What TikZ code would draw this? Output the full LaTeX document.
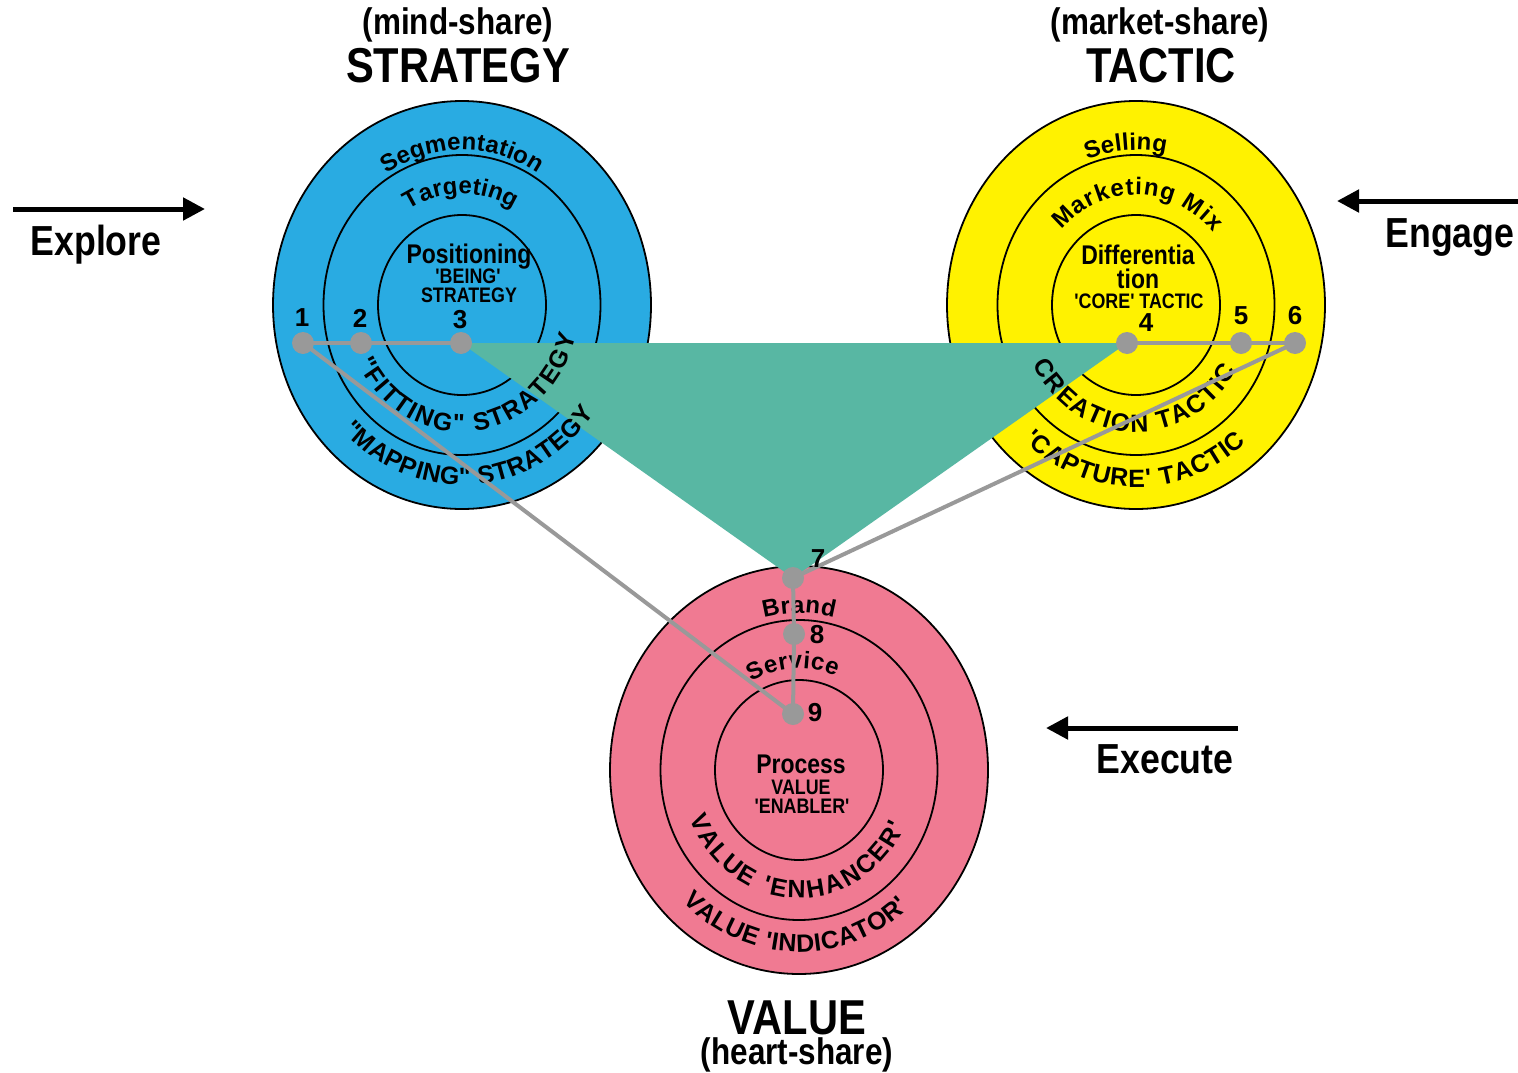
\documentclass[tikz,border=0pt]{standalone}
\usepackage{fontspec}
\setmainfont{Liberation Sans}
\newfontfamily\narrowfont[FakeStretch=0.85]{Liberation Sans}
\newfontfamily\arcfont{Liberation Sans}
\usetikzlibrary{decorations.text,arrows.meta}

\definecolor{stratblue}{RGB}{41,171,226}
\definecolor{tactyellow}{RGB}{255,242,0}
\definecolor{valuepink}{RGB}{240,122,146}
\definecolor{linkteal}{RGB}{88,183,163}
\definecolor{linkgray}{RGB}{153,153,153}

\tikzset{
  ring/.style={draw=black, line width=1.8pt},
  title/.style={anchor=base, font=\narrowfont\bfseries\fontsize{49}{49}\selectfont},
  subtitle/.style={anchor=base, font=\narrowfont\bfseries\fontsize{37}{37}\selectfont},
  phase/.style={anchor=base, font=\narrowfont\bfseries\fontsize{42}{42}\selectfont},
  inhead/.style={anchor=base, inner sep=0pt, font=\narrowfont\bfseries\fontsize{27}{27}\selectfont},
  insub/.style={anchor=base, inner sep=0pt, font=\narrowfont\bfseries\fontsize{21}{21}\selectfont},
  num/.style={font=\bfseries\fontsize{26}{26}\selectfont},
  dot/.style={circle, fill=linkgray, minimum size=22pt, inner sep=0pt},
  link/.style={linkgray, line width=4pt},
  flow/.style={line width=5pt, -{Triangle[length=22pt,width=22pt]}},
  arcword/.style 2 args={decorate, decoration={text along path,
      text align=fit to path, text={|\arcfont\bfseries\fontsize{#1}{#1}\selectfont|#2}}},
}

\begin{document}
\begin{tikzpicture}[x=1pt, y=1pt]
  \path[use as bounding box, fill=white] (0,0) rectangle (1518,-1073);

  % centres of the three targets
  \coordinate (strat) at (462,-305);
  \coordinate (tact) at (1136,-305);
  \coordinate (val) at (799,-770);

  % rings, outer to inner
  \foreach \c/\col in {strat/stratblue, tact/tactyellow, val/valuepink}{
    \foreach \rx/\ry in {189/204, 138.5/150, 84/90}
      \draw[ring, fill=\col] (\c) ellipse [x radius=\rx, y radius=\ry];
  }

  % link points
  \coordinate (p1) at (303,-343);
  \coordinate (p2) at (361,-343);
  \coordinate (p3) at (461,-343);
  \coordinate (p4) at (1127,-343);
  \coordinate (p5) at (1241,-343);
  \coordinate (p6) at (1295,-343);
  \coordinate (p7) at (793,-578);
  \coordinate (p8) at (794,-634);
  \coordinate (p9) at (793,-714);

  % shared area between the cores
  \fill[linkteal] (p3) -- (p4) -- (p7) -- cycle;

  % strategy rings
  \path[arcword={24}{Segmentation}] (strat) ++(122:143 and 155)
    arc[start angle=122, end angle=58, x radius=143, y radius=155];
  \path[arcword={24}{Targeting}] (strat) ++(121:103 and 111)
    arc[start angle=121, end angle=60, x radius=103, y radius=111];
  \path[arcword={25}{"FITTING" STRATEGY}] (strat) ++(-153:117 and 127)
    arc[start angle=-153, end angle=-14, x radius=117, y radius=127];
  \path[arcword={25}{"MAPPING" STRATEGY}] (strat) ++(-136:166 and 180)
    arc[start angle=-136, end angle=-37, x radius=166, y radius=180];
  \node[inhead] (posit) at (469,-263) {Positioning};
  \node[insub] (being) at (468,-283) {'BEING'};
  \node[insub] (stratcore) at (469,-302) {STRATEGY};

  % tactic rings
  \path[arcword={24}{Selling}] (tact) ++(110:143 and 155)
    arc[start angle=110, end angle=78, x radius=143, y radius=155];
  \path[arcword={24}{Marketing Mix}] (tact) ++(137:102 and 110)
    arc[start angle=137, end angle=41, x radius=102, y radius=110];
  \path[arcword={25}{CREATION TACTIC}] (tact) ++(-152:117 and 127)
    arc[start angle=-152, end angle=-31, x radius=117, y radius=127];
  \path[arcword={25}{'CAPTURE' TACTIC}] (tact) ++(-132:168 and 182)
    arc[start angle=-132, end angle=-49, x radius=168, y radius=182];
  \node[inhead] (diff) at (1138,-264) {Differentia};
  \node[inhead] (diffend) at (1138,-288) {tion};
  \node[insub] (core) at (1139,-308) {'CORE' TACTIC};

  % value rings
  \path[arcword={24}{Brand}] (val) ++(104:145 and 157)
    arc[start angle=104, end angle=76, x radius=145, y radius=157];
  \path[arcword={24}{Service}] (val) ++(120:94 and 102)
    arc[start angle=120, end angle=67, x radius=94, y radius=102];
  \path[arcword={25}{VALUE 'ENHANCER'}] (val) ++(-158:118 and 128)
    arc[start angle=-158, end angle=-26, x radius=118, y radius=128];
  \path[arcword={25}{VALUE 'INDICATOR'}] (val) ++(-134:168 and 182)
    arc[start angle=-134, end angle=-49, x radius=168, y radius=182];
  \node[inhead] (proc) at (801,-773) {Process};
  \node[insub] (procval) at (801,-794) {VALUE};
  \node[insub] (enabler) at (802,-813) {'ENABLER'};

  % links
  \draw[link] (p1) -- (p2) -- (p3);
  \draw[link] (p4) -- (p5) -- (p6);
  \draw[link] (p1) -- (p9);
  \draw[link] (p6) -- (p7);
  \draw[link] (p7) -- (p8) -- (p9);
  \foreach \i in {1,...,9}
    \node[dot] (d\i) at (p\i) {};
  \foreach \i/\x/\y in {1/302/318, 2/360/318, 3/460/320, 4/1146/323, 5/1241/316,
                        6/1295/316, 7/818/559, 8/817/635, 9/815/713}
    \node[num] (n\i) at (\x,-\y) {\i};

  % headings
  \node[subtitle] (mind) at (458,-35) {(mind-share)};
  \node[title] (strathead) at (458,-82) {STRATEGY};
  \node[subtitle] (market) at (1160,-35) {(market-share)};
  \node[title] (tacthead) at (1161,-82) {TACTIC};
  \node[title] (valhead) at (797,-1034) {VALUE};
  \node[subtitle] (heart) at (797,-1064) {(heart-share)};

  % phases
  \node[phase] (explore) at (96,-255) {Explore};
  \node[phase] (engage) at (1450,-247) {Engage};
  \node[phase] (execute) at (1165,-773) {Execute};
  \coordinate (exploreA) at (13,-209);
  \coordinate (exploreB) at (205,-209);
  \coordinate (engageA) at (1518,-201);
  \coordinate (engageB) at (1337,-201);
  \coordinate (executeA) at (1238,-728);
  \coordinate (executeB) at (1046,-728);
  \draw[flow] (exploreA) -- (exploreB);
  \draw[flow] (engageA) -- (engageB);
  \draw[flow] (executeA) -- (executeB);
\end{tikzpicture}
\end{document}
